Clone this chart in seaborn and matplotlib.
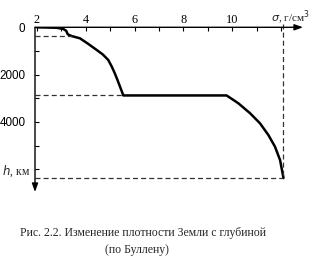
import matplotlib
matplotlib.use("Agg")
import matplotlib.pyplot as plt
import seaborn as sns
import pandas as pd

# Density (g/cm^3) vs depth (km)
density = [2.00, 2.80, 3.08, 3.20, 3.26, 3.42, 3.76, 4.10, 4.45, 4.70, 4.92,
           5.06, 5.17, 5.27, 5.40, 5.54,
           9.77, 10.25, 10.73, 11.14, 11.48, 11.75, 11.96, 12.09, 12.10]
depth = [0, 20, 70, 150, 295, 370, 465, 700, 960, 1150, 1380,
         1650, 1900, 2150, 2500, 2880,
         2880, 3210, 3630, 4060, 4550, 5040, 5610, 6310, 6371]

# boundaries marked with dashed lines
boundary_depth = [370, 2880, 6371]
boundary_density = [3.42, 5.54, 12.10]

x_ticks = [2, 3, 4, 5, 6, 7, 8, 9, 10, 11, 12]
x_labels = ["2", "", "4", "", "6", "", "8", "", "10", "", ""]
y_ticks = [0, 1000, 2000, 3000, 4000, 5000, 6000]
y_labels = ["0", "", "2000", "", "4000", "", ""]

caption1 = "Рис. 2.2. Изменение плотности Земли с глубиной"
caption2 = "(по Буллену)"

sns.set_style("white")
plt.rcParams['font.family'] = ['Liberation Serif', 'DejaVu Serif']

W, H = 326, 275
fig = plt.figure(figsize=(W / 100, H / 100), dpi=100)
left, right, top, bottom = 35, 303, 27.3, 192
ax = fig.add_axes([left / W, 1 - bottom / H, (right - left) / W, (bottom - top) / H])

df = pd.DataFrame({"density": density, "depth": depth})
sns.lineplot(data=df, x="density", y="depth", sort=False, ax=ax,
             color="black", lw=1.8, estimator=None)

xmin, xmax = 1.92, 12.9
ymax = 6960
ax.set_xlim(xmin, xmax)
ax.set_ylim(ymax, 0)

dash = dict(color="#333333", lw=0.9, ls=(0, (4, 2.5)))
for d, r in zip(boundary_depth, boundary_density):
    ax.plot([xmin, r], [d, d], **dash)
ax.plot([boundary_density[-1], boundary_density[-1]], [-120, boundary_depth[-1]],
        clip_on=False, **dash)

for s in ax.spines.values():
    s.set_visible(False)
ax.annotate("", xy=(1, 1), xytext=(0, 1), xycoords="axes fraction",
            arrowprops=dict(arrowstyle="-|>,head_length=0.5,head_width=0.18",
                            color="black", lw=1.0, shrinkA=0, shrinkB=0))
ax.annotate("", xy=(0, 0), xytext=(0, 1), xycoords="axes fraction",
            arrowprops=dict(arrowstyle="-|>,head_length=0.5,head_width=0.18",
                            color="black", lw=1.0, shrinkA=0, shrinkB=0))

ax.set_xticks(x_ticks)
ax.set_xticklabels(x_labels)
ax.set_yticks(y_ticks)
ax.set_yticklabels(y_labels)
ax.xaxis.tick_top()
ax.tick_params(axis="x", direction="in", length=3, width=0.8, pad=1,
               labelsize=8.8, top=True, bottom=False, colors="black")
ax.tick_params(axis="y", direction="in", length=3, width=0.8, pad=7,
               labelsize=8.4, left=True, colors="black")
for lab in ax.get_yticklabels():
    lab.set_family(["Liberation Sans", "DejaVu Sans"])
ax.set_xlabel("")
ax.set_ylabel("")

fig.text(2 / W, 1 - 171.5 / H, "$h$, км", fontsize=8.5, ha="left", va="center")
fig.text(271 / W, 1 - 22 / H, "$\\sigma$, г/см$^3$", fontsize=8,
         ha="left", va="baseline")

fig.text(143 / W, 1 - 233 / H, caption1, fontsize=8.5, ha="center", va="center")
fig.text(137 / W, 1 - 249.5 / H, caption2, fontsize=8.5, ha="center", va="center")

fig.savefig("out.png", dpi=100)
